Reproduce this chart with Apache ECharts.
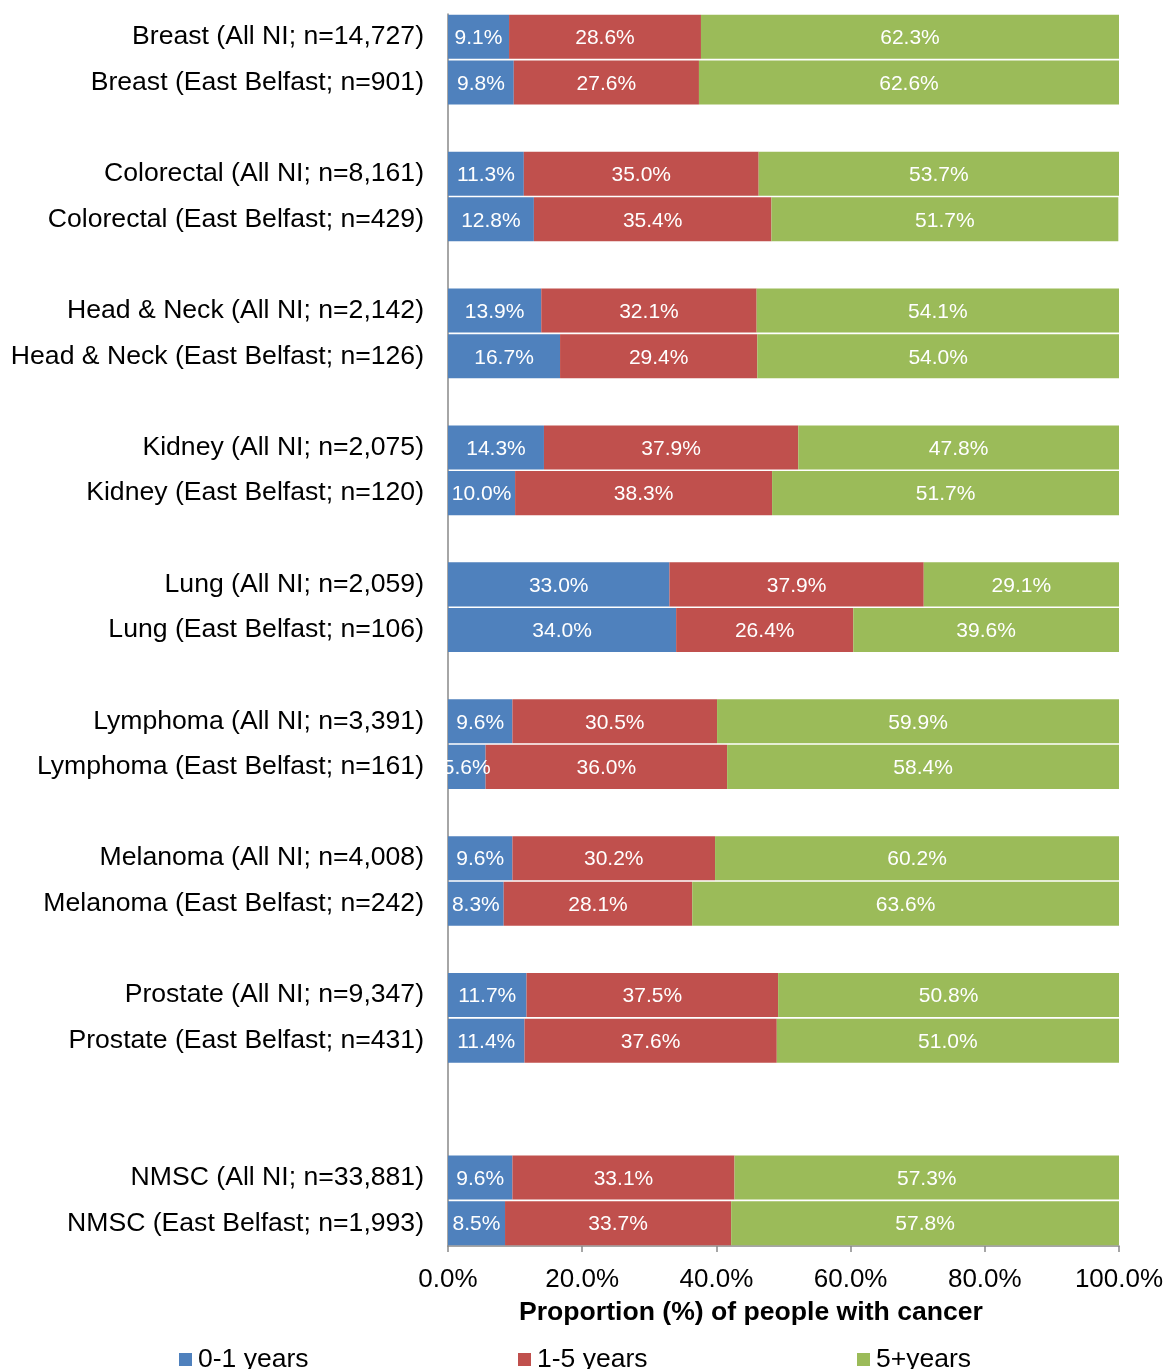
<!DOCTYPE html>
<html>
<head>
<meta charset="utf-8">
<script src="https://cdn.jsdelivr.net/npm/echarts@6/dist/echarts.min.js"></script>
<style>
html,body{margin:0;padding:0;background:#fff;}
#chart{width:1168px;height:1369px;}
</style>
</head>
<body>
<div id="chart"></div>
<script>
// Categories (blank entries are the spacer rows between cancer groups)
var categories = [
  'Breast (All NI; n=14,727)', 'Breast (East Belfast; n=901)', '',
  'Colorectal (All NI; n=8,161)', 'Colorectal (East Belfast; n=429)', '',
  'Head & Neck (All NI; n=2,142)', 'Head & Neck (East Belfast; n=126)', '',
  'Kidney (All NI; n=2,075)', 'Kidney (East Belfast; n=120)', '',
  'Lung (All NI; n=2,059)', 'Lung (East Belfast; n=106)', '',
  'Lymphoma (All NI; n=3,391)', 'Lymphoma (East Belfast; n=161)', '',
  'Melanoma (All NI; n=4,008)', 'Melanoma (East Belfast; n=242)', '',
  'Prostate (All NI; n=9,347)', 'Prostate (East Belfast; n=431)', '', '',
  'NMSC (All NI; n=33,881)', 'NMSC (East Belfast; n=1,993)'
];
var years0to1 = [9.1, 9.8, null, 11.3, 12.8, null, 13.9, 16.7, null, 14.3, 10.0, null,
  33.0, 34.0, null, 9.6, 5.6, null, 9.6, 8.3, null, 11.7, 11.4, null, null, 9.6, 8.5];
var years1to5 = [28.6, 27.6, null, 35.0, 35.4, null, 32.1, 29.4, null, 37.9, 38.3, null,
  37.9, 26.4, null, 30.5, 36.0, null, 30.2, 28.1, null, 37.5, 37.6, null, null, 33.1, 33.7];
var years5plus = [62.3, 62.6, null, 53.7, 51.7, null, 54.1, 54.0, null, 47.8, 51.7, null,
  29.1, 39.6, null, 59.9, 58.4, null, 60.2, 63.6, null, 50.8, 51.0, null, null, 57.3, 57.8];
var seriesNames = ['0-1 years', '1-5 years', '5+years'];
var xTicks = [0, 20, 40, 60, 80, 100];
var axisTitle = 'Proportion (%) of people with cancer';

var FONT = '"Liberation Sans", Arial, sans-serif';
var colors = ['#4F81BD', '#C0504D', '#9BBB59'];
var allValues = [years0to1, years1to5, years5plus];

var chart = echarts.init(document.getElementById('chart'), null, {renderer: 'canvas'});

var series = seriesNames.map(function (name, i) {
  return {
    name: name,
    type: 'bar',
    stack: 'total',
    barCategoryGap: '3.5%',
    data: allValues[i],
    itemStyle: {color: colors[i]},
    label: {
      show: true,
      position: 'inside',
      offset: [0, 1.5],
      color: '#fff',
      fontFamily: FONT,
      fontSize: 21,
      formatter: function (p) {
        return p.value == null ? '' : Number(p.value).toFixed(1) + '%';
      }
    }
  };
});

var legendLefts = [179, 518, 857];

chart.setOption({
  animation: false,
  color: colors,
  grid: {left: 448, right: 49, top: 14, bottom: 123, containLabel: false},
  title: {
    text: axisTitle,
    left: 519,
    top: 1299,
    padding: 0,
    textStyle: {fontFamily: FONT, fontSize: 26.6, fontWeight: 'bold', color: '#000'}
  },
  legend: seriesNames.map(function (n, i) {
    return {
      data: [n],
      left: legendLefts[i],
      top: 1346,
      padding: 0,
      icon: 'rect',
      itemWidth: 13,
      itemHeight: 13,
      itemGap: 0,
      textStyle: {fontFamily: FONT, fontSize: 26.5, color: '#000', padding: [0, 0, 0, 1]}
    };
  }),
  xAxis: {
    type: 'value',
    min: xTicks[0],
    max: xTicks[xTicks.length - 1],
    interval: xTicks[1] - xTicks[0],
    axisLine: {show: true, lineStyle: {color: '#898989', width: 1.5}},
    axisTick: {show: true, length: 6, lineStyle: {color: '#898989', width: 1.5}},
    splitLine: {show: false},
    axisLabel: {
      margin: 21,
      fontFamily: FONT,
      fontSize: 26,
      color: '#000',
      formatter: function (v) { return v.toFixed(1) + '%'; }
    }
  },
  yAxis: {
    type: 'category',
    inverse: true,
    data: categories,
    axisLine: {show: true, lineStyle: {color: '#898989', width: 1.5}},
    axisTick: {show: false},
    axisLabel: {
      margin: 24,
      interval: 0,
      padding: [4, 0, 0, 0],
      fontFamily: FONT,
      fontSize: 26.6,
      color: '#000'
    }
  },
  series: series
});
</script>
</body>
</html>
